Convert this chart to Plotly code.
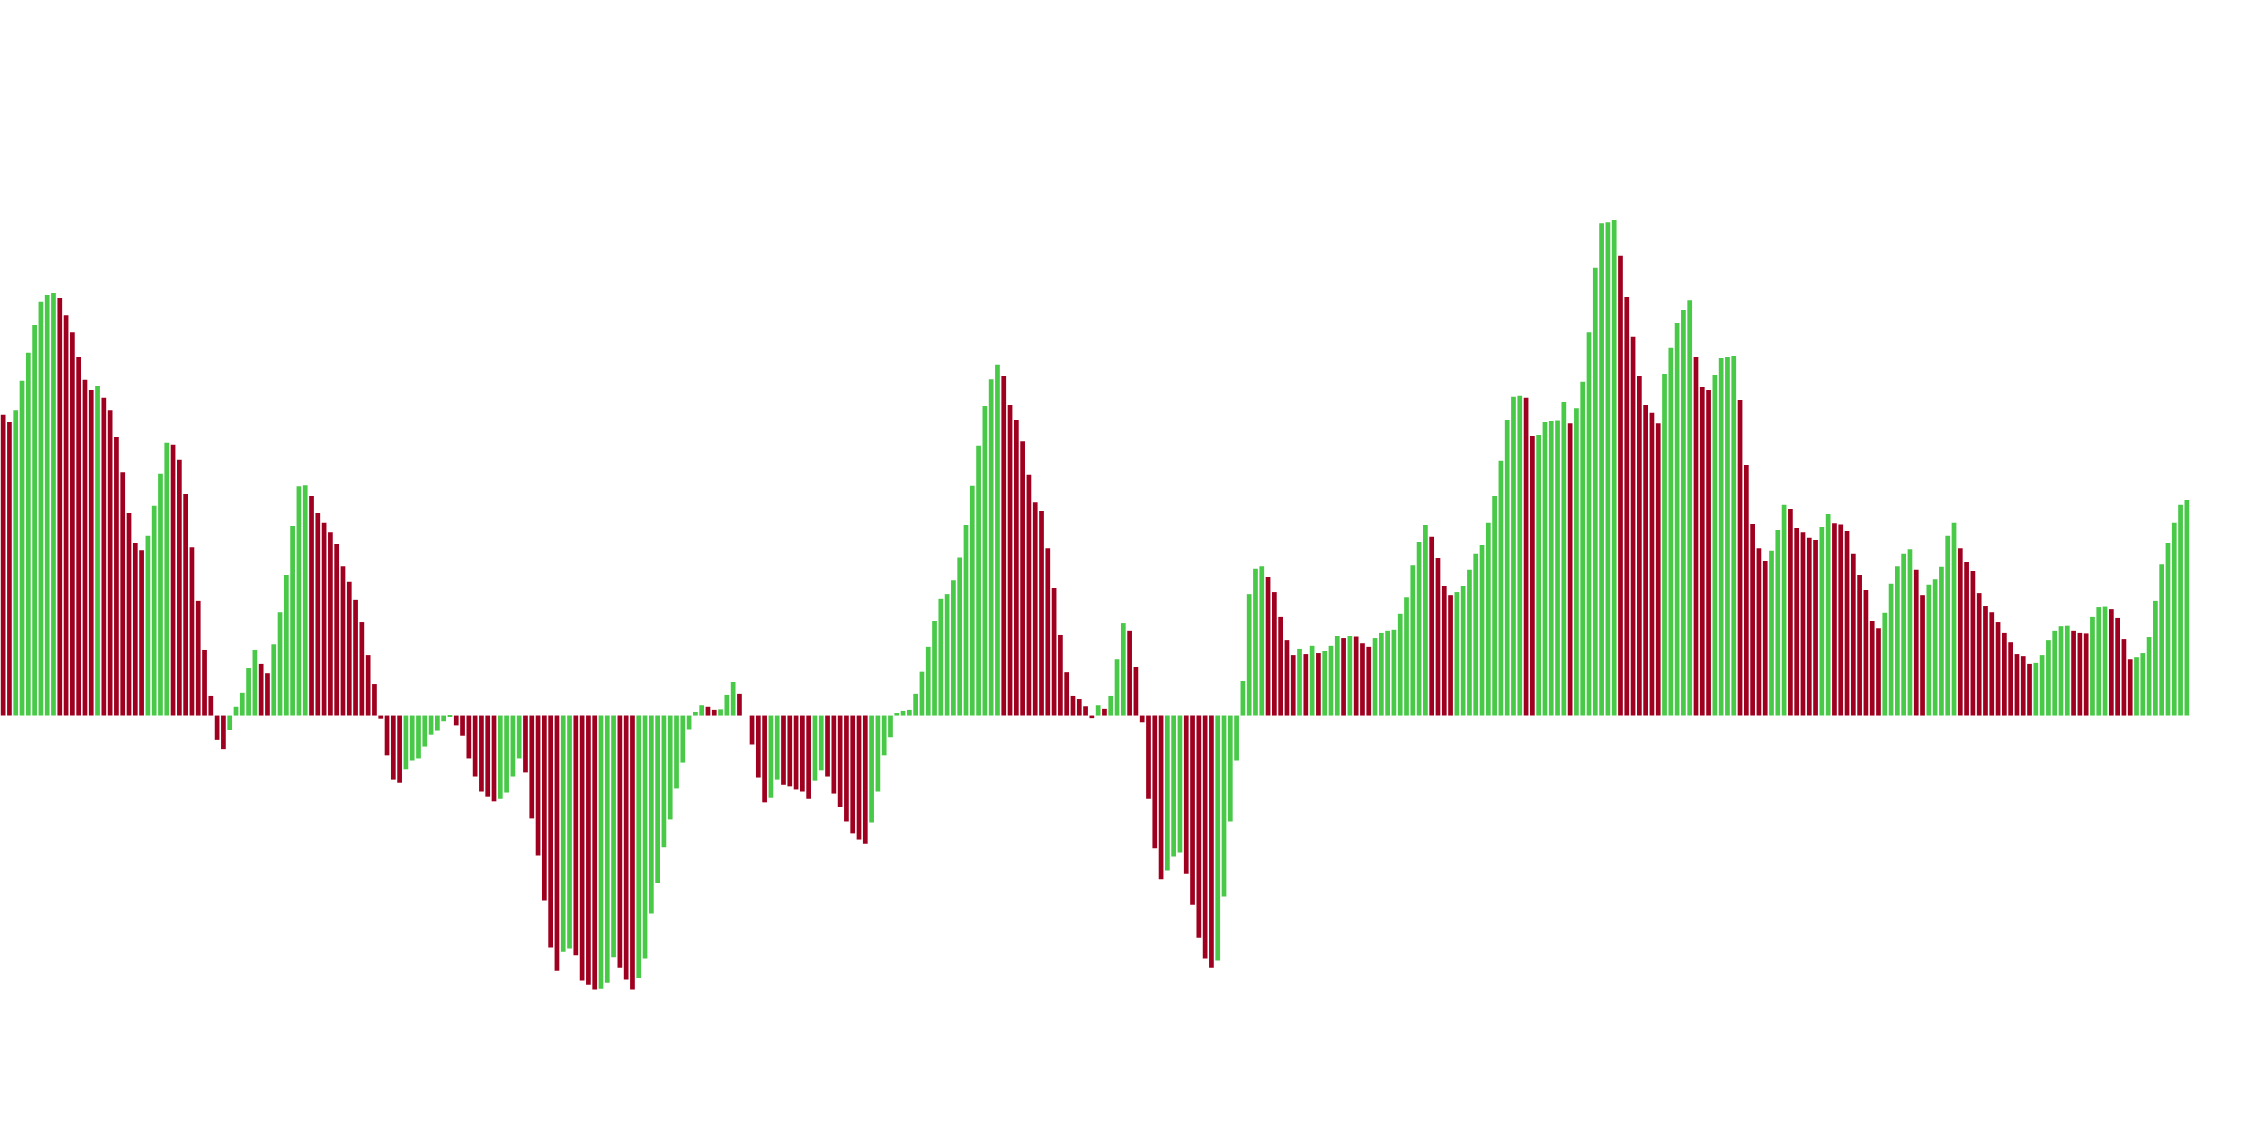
import plotly.graph_objects as go

# Histogram values (arbitrary units)
hist_values = [
    582, 568, 591, 648, 702, 756, 801, 814, 818, 808,
    775, 742, 694, 650, 630, 638, 615, 591, 539, 471,
    392, 334, 320, 348, 406, 468, 528, 524, 495, 429,
    326, 222, 127, 38, -47, -65, -28, 17, 44, 92,
    127, 100, 82, 138, 200, 272, 367, 444, 446, 425,
    392, 373, 355, 332, 289, 259, 224, 181, 117, 61,
    -6, -77, -124, -130, -104, -87, -83, -60, -37, -29,
    -11, -1, -19, -39, -83, -118, -147, -157, -166, -161,
    -149, -118, -83, -110, -199, -271, -358, -449, -494, -457,
    -451, -464, -513, -521, -530, -529, -517, -468, -488, -511,
    -530, -508, -470, -383, -324, -255, -201, -141, -91, -27,
    7, 20, 17, 11, 12, 40, 65, 42, 0, -56,
    -120, -168, -159, -124, -134, -137, -143, -147, -161, -126,
    -106, -118, -151, -177, -205, -228, -240, -248, -207, -147,
    -77, -42, 5, 9, 11, 42, 85, 133, 183, 226,
    235, 262, 306, 369, 445, 522, 599, 651, 679, 657,
    601, 572, 531, 466, 413, 396, 324, 247, 156, 84,
    38, 32, 18, -5, 20, 13, 38, 109, 179, 164,
    94, -13, -161, -257, -317, -300, -273, -265, -306, -366,
    -430, -470, -488, -474, -350, -205, -87, 67, 235, 284,
    289, 268, 239, 191, 146, 117, 129, 119, 135, 121,
    125, 135, 154, 150, 154, 153, 140, 133, 150, 160,
    164, 166, 197, 229, 291, 336, 369, 346, 305, 251,
    233, 239, 251, 282, 313, 330, 373, 425, 493, 572,
    617, 619, 615, 541, 543, 568, 570, 571, 607, 566,
    595, 646, 742, 867, 953, 955, 959, 890, 810, 733,
    657, 601, 586, 566, 661, 712, 760, 785, 804, 694,
    636, 630, 659, 692, 694, 696, 611, 485, 371, 324,
    299, 319, 359, 408, 400, 363, 355, 344, 340, 365,
    390, 372, 370, 357, 313, 272, 243, 183, 169, 199,
    255, 289, 313, 322, 282, 233, 253, 264, 288, 348,
    373, 324, 297, 280, 237, 212, 200, 181, 160, 142,
    119, 115, 100, 102, 117, 146, 164, 173, 174, 164,
    160, 159, 191, 210, 211, 206, 189, 148, 109, 113,
    121, 152, 222, 293, 334, 373, 408, 417,
]

periods = list(range(len(hist_values)))

UP_COLOR = "rgb(72,201,72)"
DOWN_COLOR = "rgb(160,0,32)"

# Colour by momentum: rising bar -> green, falling bar -> red
bar_colors = []
for i, v in enumerate(hist_values):
    if i > 0 and v >= hist_values[i - 1]:
        bar_colors.append(UP_COLOR)
    else:
        bar_colors.append(DOWN_COLOR)

fig = go.Figure(
    go.Bar(
        x=periods,
        y=hist_values,
        marker=dict(color=bar_colors, line=dict(width=0)),
        hoverinfo="x+y",
    )
)

fig.update_layout(
    width=2268,
    height=1148,
    margin=dict(l=0, r=78, t=0, b=0),
    paper_bgcolor="white",
    plot_bgcolor="white",
    bargap=0.25,
    showlegend=False,
    xaxis=dict(visible=False, range=[-0.5, len(hist_values) - 0.5]),
    yaxis=dict(visible=False, range=[-837, 1385]),
)

fig.write_html(
    "out.html",
    config={"displayModeBar": False},
    post_script="document.body.style.margin='0px';document.body.style.overflow='hidden';",
)
